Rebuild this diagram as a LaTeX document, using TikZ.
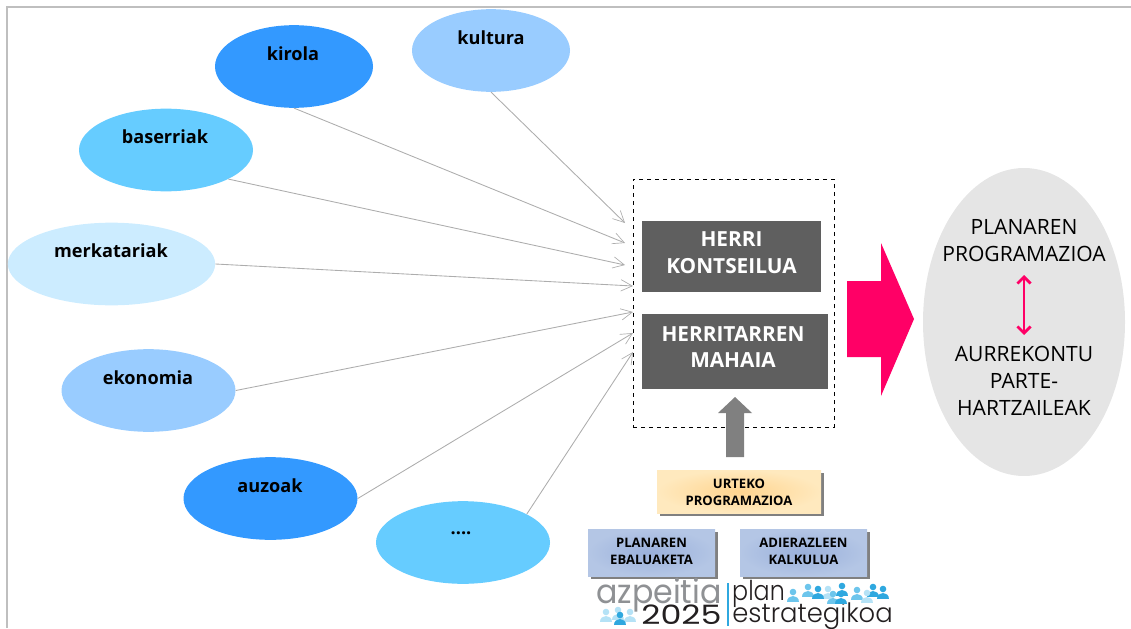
\documentclass[tikz,border=0pt]{standalone}
\usepackage{fontspec}
\setmainfont{Open Sans}
\newfontfamily\logofont{Poppins Light}
\newfontfamily\logoheavy{Poppins}
\usetikzlibrary{arrows.meta,shapes.geometric}
\definecolor{dodger}{HTML}{3399FF}
\definecolor{sky}{HTML}{66CCFF}
\definecolor{pale}{HTML}{99CCFF}
\definecolor{ice}{HTML}{CCECFF}
\definecolor{slate}{HTML}{5F5F5F}
\definecolor{magenta}{HTML}{FF0066}
\definecolor{sandin}{HTML}{FFD48F}
\definecolor{sandout}{HTML}{FFE9BE}
\definecolor{bluein}{HTML}{9AB0DB}
\definecolor{blueout}{HTML}{B4C6E5}
\definecolor{logoblue}{HTML}{2FA8DF}
\definecolor{logomid}{HTML}{6CC5EC}
\definecolor{logolight}{HTML}{B5E2F6}
\definecolor{logogray}{HTML}{8F9194}
\definecolor{logodark}{HTML}{231F20}
\tikzset{
  bubble/.style={ellipse,inner sep=0pt,minimum height=62pt},
  bubbletext/.style={font=\fontsize{13.6}{16}\selectfont\bfseries,inner sep=0pt},
  link/.style={draw=black!32,line width=.65pt,-{Straight Barb[length=8.5pt,width=8.5pt,line width=.5pt]}},
  darkbox/.style={fill=slate,inner sep=0pt},
  darktext/.style={text=white,align=center,font=\fontsize{15.6}{20}\selectfont\bfseries,inner sep=0pt},
  smallbox/.style={align=center,font=\fontsize{9.8}{12.75}\selectfont\bfseries,inner sep=0pt},
  plantext/.style={align=center,font=\fontsize{15.8}{20.2}\selectfont,inner sep=0pt},
  logotext/.style={inner sep=0pt,anchor=base west},
}
% one small figure of the logo: head and shoulders
\newcommand{\person}[3]{
  \fill[#3] (#1,#2) circle (3.3);
  \fill[#3] (#1-6,#2+10) .. controls (#1-6,#2+2) and (#1+6,#2+2) .. (#1+6,#2+10) -- cycle;
}
\begin{document}
\begin{tikzpicture}[x=0.75pt,y=-0.75pt]
\useasboundingbox (0,0) rectangle (1131,628);
\draw[black!25,line width=1.1pt] (7,628) -- (7,7) -- (1131,7);

\node[bubble,fill=dodger,minimum width=118.5pt] (kirola) at (294,66.5) {};
\node[bubble,fill=pale,minimum width=118.5pt] (kultura) at (491,50.5) {};
\node[bubble,fill=sky,minimum width=130.5pt] (baserriak) at (166,150) {};
\node[bubble,fill=ice,minimum width=155.5pt] (merkatariak) at (111.5,264) {};
\node[bubble,fill=pale,minimum width=130.5pt] (ekonomia) at (148.5,390.5) {};
\node[bubble,fill=dodger,minimum width=130.5pt] (auzoak) at (270.5,498.5) {};
\node[bubble,fill=sky,minimum width=130.5pt] (besteak) at (463,542.5) {};

\node[bubbletext] (kirolatext) at (293,54) {kirola};
\node[bubbletext] (kulturatext) at (491,38) {kultura};
\node[bubbletext] (baserriaktext) at (165,137) {baserriak};
\node[bubbletext] (merkatariaktext) at (111,251) {merkatariak};
\node[bubbletext] (ekonomiatext) at (148,378) {ekonomia};
\node[bubbletext] (auzoaktext) at (270,486) {auzoak};
\node[bubbletext] (besteaktext) at (461,533) {....};

\node[draw,dashed,line width=.7pt,minimum width=150.75pt,minimum height=186pt,inner sep=0pt] (taldea) at (733.5,303) {};
\node[darkbox,minimum width=134.25pt,minimum height=53.25pt] (kontseilua) at (731.5,256.5) {};
\node[darkbox,minimum width=139.5pt,minimum height=56.25pt] (mahaia) at (735,351.5) {};
\node[darktext] (kontseiluatext) at (731.5,252.5) {HERRI\\KONTSEILUA};
\node[darktext] (mahaiatext) at (733,347) {HERRITARREN\\MAHAIA};

\coordinate (sar1) at (625,223);
\coordinate (sar2) at (625,243);
\coordinate (sar3) at (625,265);
\coordinate (sar4) at (633,286);
\coordinate (sar5) at (633,312);
\coordinate (sar6) at (633,333);
\coordinate (sar7) at (633,352);
\draw[link] (kultura.south) -- (sar1);
\draw[link] (kirola.south) -- (sar2);
\draw[link] (baserriak.-25) -- (sar3);
\draw[link] (merkatariak.east) -- (sar4);
\draw[link] (ekonomia.east) -- (sar5);
\draw[link] (auzoak.east) -- (sar6);
\draw[link] (besteak.24) -- (sar7);

\fill[magenta] (847,281) -- (881,281) -- (881,243) -- (914,319) -- (881,396) -- (881,357) -- (847,357) -- cycle;
\node[ellipse,fill=black!10,inner sep=0pt,minimum width=151.5pt,minimum height=231pt] (plana) at (1024,322) {};
\node[plantext] (programazioa) at (1024,240.5) {PLANAREN\\PROGRAMAZIOA};
\node[plantext] (aurrekontu) at (1024,380.5) {AURREKONTU\\PARTE-\\HARTZAILEAK};
\coordinate (goia) at (1024,275);
\coordinate (behea) at (1024,335);
\draw[magenta,line width=2pt,{Straight Barb[length=5pt,width=10pt]}-{Straight Barb[length=5pt,width=10pt]}] (goia) -- (behea);

\fill[black!50] (726,457) -- (726,413) -- (718,413) -- (735,397) -- (752,413) -- (744,413) -- (744,457) -- cycle;

\fill[black!50] (660,473) rectangle (824,516);
\shade[inner color=sandin,outer color=sandout] (657,470) rectangle (821,513);
\node[smallbox] (urteko) at (739,492) {URTEKO\\PROGRAMAZIOA};
\fill[black!50] (591,532) rectangle (718,579);
\shade[inner color=bluein,outer color=blueout] (588,529) rectangle (715,576);
\node[smallbox] (ebaluaketa) at (651.5,551.5) {PLANAREN\\EBALUAKETA};
\fill[black!50] (743,532) rectangle (870,579);
\shade[inner color=bluein,outer color=blueout] (740,529) rectangle (867,576);
\node[smallbox] (kalkulua) at (803.5,551.5) {ADIERAZLEEN\\KALKULUA};

% logo
\node[logotext,text=logogray,font=\logoheavy\fontsize{25}{25}\selectfont,xscale=.95] (azpeitia) at (596,603) {azpeitia};
\node[logotext,text=logodark,font=\logoheavy\fontsize{20}{20}\selectfont,xscale=1.25] (urtea) at (641,624) {2025};
\draw[logoblue,line width=1pt] (728,583) -- (728,626);
\node[logotext,text=logodark,font=\logofont\fontsize{20.5}{21}\selectfont,xscale=.87] (plan) at (732,600) {plan};
\node[logotext,text=logodark,font=\logofont\fontsize{20}{20}\selectfont,xscale=.97] (estrategikoa) at (732,622) {estrategikoa};
\foreach \x/\y/\c in {808/587/logomid,828/589/logolight,842/586/logoblue,873/587/logoblue,793/592/logomid,818/589/logoblue,833/594/logomid,841/594/logoblue,857/590/logomid,867/593/logolight,883/589/logoblue}
  {\person{\x}{\y}{\c}}
\foreach \x/\y/\c in {606/612/logolight,618/610/logolight,630/612/logolight,620/615/logoblue}
  {\person{\x}{\y}{\c}}
\end{tikzpicture}
\end{document}
